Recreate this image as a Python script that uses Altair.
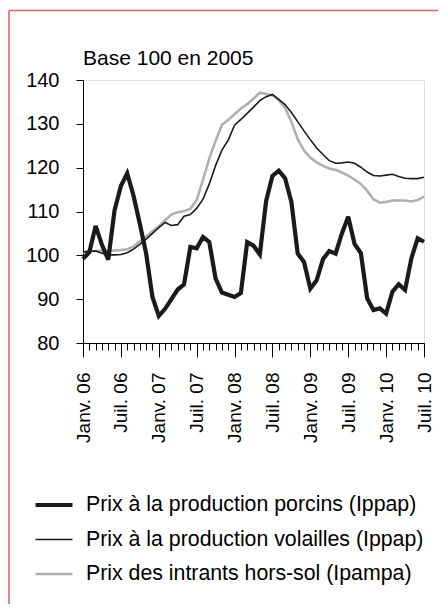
import altair as alt
import pandas as pd

# ---- data ----
series_names = [
    "Prix à la production porcins (Ippap)",
    "Prix à la production volailles (Ippap)",
    "Prix des intrants hors-sol (Ipampa)",
]
tick_labels = ["Janv. 06", "Juil. 06", "Janv. 07", "Juil. 07", "Janv. 08",
               "Juil. 08", "Janv. 09", "Juil. 09", "Janv. 10", "Juil. 10"]
y_ticks = [80, 90, 100, 110, 120, 130, 140]
subtitle = "Base 100 en 2005"

# monthly values, Jan 2006 .. Jul 2010 (55 months)
porcins = [99.2, 100.7, 106.7, 102.4, 99.0, 110.3, 115.8, 118.7, 113.6, 107.2,
           100.4, 90.5, 86.2, 87.8, 90.0, 92.2, 93.4, 101.9, 101.6, 104.2,
           103.0, 94.7, 91.5, 91.0, 90.5, 91.4, 103.0, 102.2, 100.2, 112.4,
           118.1, 119.3, 117.6, 112.2, 100.4, 98.5, 92.4, 94.3, 99.1, 101.0,
           100.4, 105.0, 108.8, 102.6, 100.5, 90.2, 87.5, 87.9, 86.7, 91.7,
           93.4, 92.1, 99.3, 103.9, 103.1]
volailles = [100.8, 100.9, 101.0, 100.5, 100.1, 100.1, 100.2, 100.6, 101.4, 102.5,
             103.7, 105.0, 106.3, 107.5, 106.8, 107.0, 108.9, 109.3, 110.7, 112.8,
             116.3, 120.5, 124.0, 126.3, 129.7, 131.0, 132.4, 133.8, 135.3, 136.2,
             136.7, 135.6, 134.4, 132.6, 130.5, 128.4, 126.4, 124.5, 123.0, 121.6,
             121.0, 121.1, 121.3, 121.0, 120.1, 119.0, 118.2, 118.1, 118.3, 118.5,
             118.0, 117.6, 117.5, 117.5, 117.8]
intrants = [100.6, 101.0, 101.0, 101.1, 101.0, 101.1, 101.2, 101.4, 102.0, 103.2,
            104.3, 105.5, 106.6, 108.0, 109.3, 109.8, 110.1, 110.6, 112.6, 117.2,
            122.1, 126.1, 129.8, 130.9, 132.2, 133.5, 134.5, 135.8, 137.1, 136.8,
            136.5, 135.4, 133.6, 130.5, 126.5, 123.9, 122.3, 121.2, 120.4, 119.8,
            119.5, 118.9, 118.2, 117.3, 116.3, 114.7, 112.8, 112.0, 112.2, 112.5,
            112.5, 112.5, 112.3, 112.6, 113.4]

rows = []
for name, vals in [(series_names[2], intrants), (series_names[1], volailles),
                   (series_names[0], porcins)]:
    for i, v in enumerate(vals):
        rows.append({"mois": i, "indice": v, "serie": name})
df = pd.DataFrame(rows)
n_months = len(porcins)

FONT = "Liberation Sans"
label_expr = "[" + ",".join("'%s'" % t for t in tick_labels) + "][round(datum.value/6)]"

xscale = alt.Scale(domain=[0, n_months - 1], nice=False, zero=False)
yscale = alt.Scale(domain=[80, 140], nice=False, zero=False)

y_enc = alt.Y("indice:Q", scale=yscale,
              axis=alt.Axis(values=y_ticks, title=None, grid=False, tickSize=7,
                            labelPadding=17, labelFontSize=20, labelColor="black",
                            domainColor="black", tickColor="black", labelFont=FONT))

legend_opts = dict(title=None, orient="none", legendX=-50, legendY=404,
                   symbolType="stroke", symbolSize=1369, labelFontSize=21.3,
                   labelFont=FONT, labelColor="black", labelOffset=11,
                   labelLimit=600, rowPadding=4, padding=0)

lines = alt.Chart(df).mark_line(strokeJoin="miter", strokeMiterLimit=3).encode(
    x=alt.X("mois:Q", scale=xscale,
            axis=alt.Axis(values=list(range(0, n_months, 6)), labelExpr=label_expr,
                          labelAngle=-90, labelAlign="right", labelBaseline="middle",
                          tickSize=14, labelPadding=15, labelFontSize=19,
                          labelColor="black", domainColor="black", tickColor="black",
                          grid=False, title=None, orient="bottom", labelFont=FONT)),
    y=y_enc,
    color=alt.Color("serie:N",
                    scale=alt.Scale(domain=series_names,
                                    range=["#1a1a1a", "#1a1a1a", "#b0b0b0"]),
                    legend=alt.Legend(**legend_opts)),
    strokeWidth=alt.StrokeWidth("serie:N",
                                scale=alt.Scale(type="ordinal", domain=series_names,
                                                range=[4.2, 1.6, 2.6]),
                                legend=alt.Legend(**legend_opts)),
    detail="serie:N",
)

minor = alt.Chart(df).mark_point(opacity=0).encode(
    x=alt.X("mois:Q", scale=xscale,
            axis=alt.Axis(values=list(range(n_months)), labels=False, domain=False,
                          tickSize=7, tickColor="black", grid=False, title=None,
                          orient="bottom")),
    y=y_enc,
)

one = pd.DataFrame({"k": [0]})
frame_top = alt.Chart(one).mark_rule(color="#e06666", strokeWidth=1.6).encode(
    x=alt.value(-74), x2=alt.value(355), y=alt.value(-69.5))
frame_left = alt.Chart(one).mark_rule(color="#e06666", strokeWidth=1.6).encode(
    x=alt.value(-74), y=alt.value(-69.5), y2=alt.value(524))
title_txt = alt.Chart(one).mark_text(align="left", baseline="alphabetic", fontSize=21,
                                     font=FONT, color="black").encode(
    x=alt.value(0), y=alt.value(-15), text=alt.value(subtitle))

chart = alt.layer(frame_top, frame_left, minor, lines, title_txt).resolve_axis(
    x="independent"
).properties(
    width=341, height=263,
    autosize=alt.AutoSizeParams(type="none"),
    padding={"left": 75, "top": 72, "right": 14, "bottom": 261},
).configure_view(stroke=None).configure(font=FONT)

chart.save("out.html", embed_options={"renderer": "svg", "actions": False})
